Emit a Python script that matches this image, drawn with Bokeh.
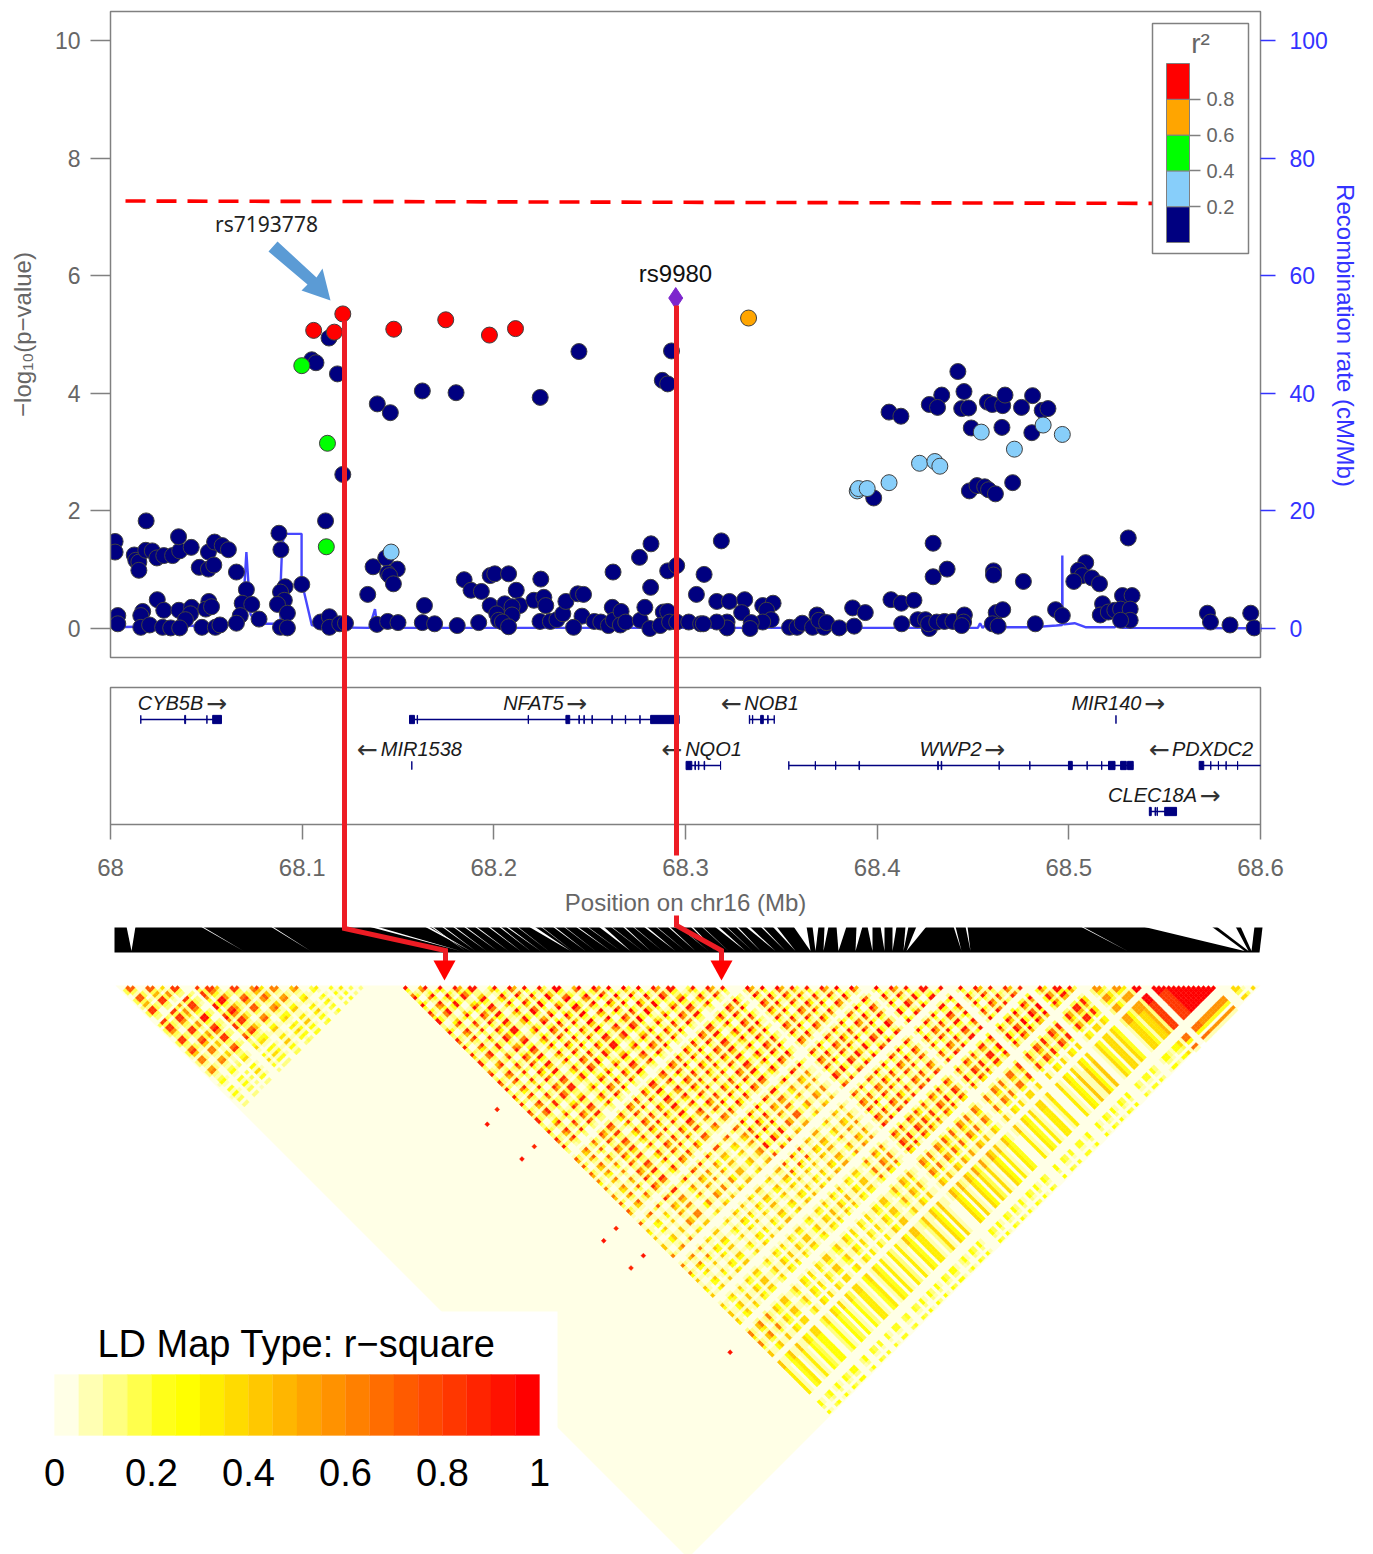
from bokeh.plotting import figure
from bokeh.embed import file_html
from bokeh.resources import INLINE
from bokeh.models import Range1d, LinearAxis, FixedTicker
from bokeh.core.properties import value

# ---- association data: (position Mb, -log10 p)
navy = [(.1140,4.94),(.1050,4.57),(.1072,4.52),(.1184,4.33),(.2444,4.71),(.2927,4.72),(.2879,4.22),(.2907,4.16),(.1392,3.82),(.1460,3.67),(.1627,4.04),(.1803,4.01),(.2242,3.93),(.1212,2.62),(.0186,1.83),(.1122,1.83),
(.0024,1.48),(.0024,1.30),(.0124,1.25),(.0132,1.16),(.0148,1.13),(.0148,.99),(.0184,1.33),(.0218,1.32),(.0242,1.20),(.0278,1.24),(.0324,1.24),(.0361,1.32),(.0355,1.56),(.0421,1.38),(.0511,1.30),(.0543,1.47),(.0583,1.41),(.0615,1.34),(.0463,1.04),(.0511,1.01),(.0539,1.08),(.0657,.96),(.0709,.66),(.0687,.43),(.0737,.41),(.0775,.16),(.0677,.22),(.0657,.09),(.0879,1.62),(.0889,1.34),(.0911,.71),(.0887,.62),(.0907,.48),(.0871,.41),(.0923,.26),(.0887,.02),(.0923,.01),(.0998,.75),(.0244,.49),(.0278,.31),(.0357,.31),(.0423,.36),(.0417,.25),(.0391,.15),(.0513,.46),(.0497,.33),(.0527,.37),(.0168,.29),(.0158,.22),(.0038,.22),(.0038,.08),(.0158,.02),(.0204,.06),(.0272,.02),(.0314,.01),(.0361,.01),(.0477,.02),(.0547,.02),(.0571,.06),(.1096,.11),(.1142,.20),(.1142,.02),(.1196,.08),(.1226,.09),(.1390,.07),(.1446,.12),(.1500,.10),(.1627,.10),(.1691,.08),(.1809,.05),(.1921,.10),(.1342,.58),(.1370,1.05),(.1436,1.20),(.1496,1.01),(.1446,.94),(.1456,.90),(.1476,.76),(.1638,.39),(.1845,.83),(.1881,.65),(.1935,.63),(.1981,.90),(.2005,.93),(.2077,.93),(.2117,.65),(.1981,.39),(.2057,.42),(.2135,.39),(.2095,.37),(.2015,.25),(.2095,.23),(.2025,.14),(.2045,.11),(.2077,.03),(.2209,.48),(.2245,.84),(.2261,.53),(.2271,.39),(.2241,.12),(.2295,.12),(.2329,.15),(.2360,.25),(.2376,.46),(.2438,.59),(.2468,.58),(.2460,.21),(.2416,.02),(.2524,.12),(.2558,.11),(.2618,.36),(.2598,.05),(.2624,.14),(.2664,.29),(.2660,.06),(.2688,.11),(.2764,.14),(.2788,.36),(.2818,.70),(.2760,1.21),(.2820,1.44),(.2622,.96),(.2907,.98),(.2954,1.07),(.2884,.28),(.2907,.29),(.2814,.0),(.2868,.05),(.2917,.11),(.2954,.11),(.3017,.11),(.3057,.58),(.3079,.08),(.3097,.92),
(.3187,1.49),(.4292,1.45),(.4365,1.01),(.4292,.88),(.4607,.98),(.4607,.91),(.4763,.80),(.5310,1.54),(.5088,1.12),(.5050,.99),(.5070,.90),(.5026,.80),(.5120,.86),(.5160,.76),(.3163,.46),(.3229,.46),(.3309,.49),(.3293,.27),(.3403,.39),(.3457,.43),(.3423,.31),(.3447,.15),(.3403,.11),(.3343,.10),(.3337,.0),(.3217,.11),(.3217,.01),(.3163,.11),(.3093,.08),(.3543,.02),(.3582,.02),(.3609,.09),(.3663,.02),(.3686,.23),(.3722,.02),(.3696,.14),(.3736,.10),(.3802,.01),(.3880,.04),(.3872,.35),(.3938,.27),(.4072,.49),(.4126,.43),(.4192,.48),(.4128,.08),(.4212,.15),(.4252,.15),(.4272,.0),(.4268,.08),(.4311,.11),(.4351,.12),(.4395,.12),(.4455,.23),(.4451,.11),(.4441,.05),(.4621,.27),(.4655,.32),(.4601,.08),(.4631,.04),(.4825,.08),(.4931,.32),(.4966,.22),(.5176,.42),(.5164,.23),(.5206,.28),(.5240,.31),(.5280,.56),(.5330,.56),(.5270,.33),(.5320,.33),(.5320,.14),(.5270,.14),(.5723,.26),(.5739,.11),(.5841,.06),(.5949,.26),(.5967,.01),
(.4421,4.37),(.4453,4.03),(.4337,3.97),(.4272,3.81),(.4315,3.76),(.4441,3.74),(.4477,3.75),(.4062,3.68),(.4124,3.61),(.4575,3.85),(.4601,3.81),(.4655,3.79),(.4667,3.97),(.4753,3.76),(.4811,3.96),(.4861,3.71),(.4891,3.74),(.4491,3.41),(.4651,3.42),(.4807,3.33),(.3982,2.22),(.4481,2.34),(.4521,2.43),(.4561,2.41),(.4581,2.36),(.4617,2.29),(.4707,2.48)]
skyblue = [(.1464,1.30),(.4543,3.34),(.4866,3.46),(.4966,3.30),(.4716,3.05),(.4221,2.81),(.4301,2.84),(.4327,2.76),(.4062,2.48),(.3896,2.34),(.3902,2.38),(.3948,2.38)]
green = [(.0998,4.47),(.1132,3.15),(.1126,1.39)]
orange = [(.3329,5.28)]
red = [(.1212,5.35),(.1060,5.07),(.1168,5.04),(.1478,5.09),(.1749,5.25),(.1977,4.99),(.2113,5.10)]
lead_snp = [(.2949,5.62)]

recomb_pos = [0,.066,.069,.0709,.073,.076,.0887,.0887,.0895,.0905,.0997,.0997,.105,.110,.135,.138,.139,.140,.143,.30,.40,.450,.4525,.4537,.455,.4571,.460,.480,.4935,.4965,.4966,.4967,.4975,.503,.509,.524,.5262,.528,.60]
recomb_rate = [.2,.6,2.5,13,2.5,.8,.8,7,13.5,16.1,16.1,8,.6,.2,.1,3.3,.9,.2,.1,.1,.1,.1,.1,.9,.1,.8,.2,.2,.5,.6,12.4,.9,.7,.9,.2,.2,1.2,.1,.05]

gene_names = ["CYB5B","NFAT5","NOB1","MIR140","MIR1538","NQO1","WWP2","PDXDC2","CLEC18A"]
gene_label_pos = [.0313,.2206,.3449,.5196,.1622,.3146,.4383,.5750,.5437]
gene_arrow_pos = [.0553,.2431,.3240,.5447,.1341,.2930,.4612,.5473,.5737]
gene_arrows = ["→","→","←","→","←","←","→","←","→"]
gene_row = [1,1,1,1,2,2,2,2,3]
gene_start = [.0158,.1560,.3333,.5246,.1572,.3003,.3539,.5680,.5420]
gene_end = [.0579,.2967,.3463,.5246,.1572,.3183,.5336,.6000,.5562]
gene_exons = [
 [(.0158,.0158),(.0387,.0392),(.0503,.0503),(.0533,.0579)],
 [(.1560,.1586),(.1600,.1602),(.2179,.2181),(.2376,.2396),(.2444,.2446),(.2470,.2472),(.2512,.2514),(.2616,.2618),(.2686,.2688),(.2762,.2763),(.2818,.2967)],
 [(.3333,.3335),(.3349,.3351),(.3392,.3406),(.3429,.3431),(.3463,.3463)],
 [(.5246,.5246)],
 [(.1572,.1572)],
 [(.3003,.3033),(.3049,.3052),(.3067,.3070),(.3097,.3100),(.3183,.3183)],
 [(.3539,.3539),(.3677,.3678),(.3783,.3784),(.3905,.3908),(.4316,.4319),(.4334,.4337),(.4636,.4637),(.4796,.4797),(.4998,.5018),(.5095,.5096),(.5171,.5172),(.5207,.5241),(.5270,.5300),(.5306,.5336)],
 [(.5680,.5704),(.5740,.5741),(.5780,.5781),(.5820,.5821),(.5880,.5881)],
 [(.5420,.5430),(.5450,.5452),(.5460,.5462),(.5500,.5562)],
]
x_ticks = [68,68.1,68.2,68.3,68.4,68.5,68.6]
y_ticks = [0,2,4,6,8,10]
rate_ticks = [0,20,40,60,80,100]
r2_colors = ["#000080","#87CEFA","#00FF00","#FFA500","#FF0000"]
r2_breaks = [0,.2,.4,.6,.8,1]
ld_labels = [0,.2,.4,.6,.8,1]
ld_palette = ["#FFFFE6","#FFFFB3","#FFFF80","#FFFF4C","#FFFF19","#FFFF00","#FFED00","#FFDB00","#FFC800","#FFB600","#FFA400","#FF9200","#FF8000","#FF6D00","#FF5B00","#FF4900","#FF3700","#FF2400","#FF1200","#FF0000"]

# LD blocks: estimated strength per 48px block along the SNP axis, rows I, columns J>=I
ld_blocks = [
 [.7,.8,.8,.6,.25,.1],
 [.8,.9,.8,.35,.1],
 [.8,.7,.4,.15],
 [.6,.4,.2],
 [.3,.2],
 [.1],
 [.9,.9,.85,.85,.85,.85,.85,.7,.6,.7,.42,.6,.4,.4,.6,.4,.3,.25],
 [.9,.9,.9,.9,.85,.85,.8,.8,.85,.6,.4,.4,.4,.4,.38,.25,.25],
 [.9,.95,.9,.9,.9,.85,.85,.8,.6,.45,.4,.4,.38,.38,.25,.22],
 [.95,.95,.9,.9,.9,.9,.75,.45,.45,.45,.4,.4,.38,.3,.22],
 [.95,.95,.9,.9,.85,.9,.9,.75,.45,.45,.38,.32,.3,.25],
 [.9,.9,.9,.9,.9,.7,.5,.5,.4,.4,.4,.32,.25],
 [.9,.95,.95,.95,.6,.5,.6,.65,.5,.4,.38,.25],
 [.95,.9,.9,.9,.8,.9,.85,.65,.45,.38,.25],
 [.9,.9,.9,.9,.85,.8,.7,.5,.38,.25],
 [.95,.95,.9,.85,.85,.65,.42,.32,.25],
 [.9,.9,.9,.85,.65,.38,.32,.22],
 [.9,.9,.9,.8,.38,.32,.25],
 [.85,.95,.85,.38,.42,.25],
 [.9,.85,.38,.38,.22],
 [.55,.5,.38,.25],
 [.95,.8,.65],
 [1.0,.55],
 [.35],
]
# how strongly each 5px SNP bin along the top edge carries LD (pale diagonals are low)
ld_snp_strength = ("13993299372993219" "39973299328972993" "289327932839372932"
 "3113" "1293279239" "3297399225" "9329729329" "5299327923" "9729329529" "3297299325"
 "9329729321" "2972932972" "9529329729" "3297212932" "9729329923" "9102932972"
 "9329729113" "9629939611" "3996399629" "9109999999" "9999991019" "95192")
ld_spot_i = [47,52,52,47,52,47,52,47,50]
ld_spot_j = [102,101,116,116,149,149,160,160,197]
ld_spot_r2 = [.9,.85,.85,.9,.85,.9,.9,.85,.9]

# gene-map fan between genome and LD matrix: white wedges (top left, top right, bottom)
wedge_l = [126,200,270,368,424,430,441,452,463,474,487,498,505,516,528,540,552,563,575,586,598,610,622,632,643,655,667,678,690,701,714,725,735,745,760,772,793,812,824,836,856,867,880,892,905,916,953,965,1080,1142,1216,1240]
wedge_r = [135,202,272,376,428,432,443,454,465,476,489,500,507,517,534,541,554,564,577,587,603,611,624,633,646,656,669,679,692,702,718,726,737,749,762,776,806,818,828,846,862,872,884,896,908,926,955,967,1082,1211,1235,1254]
wedge_b = [131,243,310,460,470,465,475,486,497,508,520,530,540,548,570,572,585,595,610,620,630,642,650,662,675,685,695,708,715,728,745,752,760,775,785,795,810,815,823,838,855,872,884,892,903,906,961,970,1127,1244,1248,1251]

# ---- page geometry
ORG = 0
W, H = 1373, 1554
PXS = 1916.6667
PYS = 58.8
mb = lambda px: 68 + (px - 110) / PXS
lp = lambda py: (628 - py) / PYS

p = figure(width=W, height=H, x_range=Range1d(mb(ORG), mb(ORG + W)), y_range=Range1d(lp(ORG + H), lp(ORG)),
           x_axis_type=None, y_axis_type=None, tools="", toolbar_location=None, output_backend="svg",
           min_border=0, outline_line_color=None, background_fill_color="white")
p.extra_x_ranges = {"page": Range1d(ORG, ORG + W), "ld": Range1d((ORG - 54) / 485, (ORG + W - 54) / 485)}
p.extra_y_ranges = {"page": Range1d(ORG + H, ORG),
                    "rate": Range1d(lp(ORG + H) * 10, lp(ORG) * 10),
                    "r2": Range1d((242 - (ORG + H)) / 179, (242 - ORG) / 179),
                    "row": Range1d(1 + (ORG + H - 719) / 46, 1 + (ORG - 719) / 46)}
PG = dict(x_range_name="page", y_range_name="page")
GREY = "#808080"
TXT = "#666666"
BLUE = "#3333FF"
FONT = value("Liberation Sans")

# ---- association panel
p.line([68 + v for v in recomb_pos], recomb_rate, y_range_name="rate", line_color=BLUE, line_width=2.4, line_alpha=.9)
for pts, col in zip([navy, skyblue, green, orange, red], r2_colors):
    p.scatter([68 + a for a, _ in pts], [b for _, b in pts], size=16, marker="circle",
              fill_color=col, line_color="#404040", line_width=1)
p.scatter([68 + a for a, _ in lead_snp], [b for _, b in lead_snp], size=21, marker="diamond",
          fill_color="#7D26CD", line_color="#7D26CD")
p.segment(x0=[mb(125)], y0=[7.27], x1=[mb(1152)], y1=[7.23], line_color="#FF0000", line_width=3.6, line_dash="20 11")
# frame masks and frames
p.quad(left=[30, 1261], right=[109.5, 1285], top=[11, 11], bottom=[657, 657], fill_color="white", line_color=None, **PG)
p.quad(left=[110], right=[1260], top=[11], bottom=[657], fill_color=None, line_color=GREY, line_width=1.5, **PG)
p.quad(left=[110], right=[1260], top=[687], bottom=[824], fill_color=None, line_color=GREY, line_width=1.5, **PG)

left_axis = LinearAxis(fixed_location=68, bounds=(0, 10), ticker=FixedTicker(ticks=y_ticks))
right_axis = LinearAxis(fixed_location=68.6, y_range_name="rate", bounds=(0, 100), ticker=FixedTicker(ticks=rate_ticks))
x_axis = LinearAxis(fixed_location=lp(824), bounds=(68, 68.6), ticker=FixedTicker(ticks=x_ticks),
                    major_label_overrides={t: f"{t:g}" for t in x_ticks})
for ax, col, tc in [(left_axis, TXT, GREY), (right_axis, BLUE, BLUE), (x_axis, TXT, GREY)]:
    ax.major_label_text_font = "Liberation Sans"
    ax.major_label_text_font_size = "23px"
    ax.major_label_text_color = col
    ax.major_tick_line_color = tc
    ax.major_tick_line_width = 1.5
    ax.major_tick_in = 0
    ax.minor_tick_line_color = None
    ax.axis_line_color = None
left_axis.major_tick_out = 20
left_axis.major_label_standoff = 10
right_axis.major_tick_out = 15
right_axis.major_label_standoff = 14
x_axis.major_tick_out = 15
x_axis.major_label_standoff = 19
x_axis.major_label_text_font_size = "24px"
p.add_layout(left_axis, "left")
p.add_layout(right_axis, "right")
p.add_layout(x_axis, "below")

p.text(x=[22], y=[334], text=["−log₁₀(p−value)"], angle=[1.5708], text_align="center", text_baseline="middle",
       text_font=FONT, text_font_size="24px", text_color=TXT, **PG)
p.text(x=[1345], y=[335], text=["Recombination rate (cM/Mb)"], angle=[-1.5708], text_align="center", text_baseline="middle",
       text_font=FONT, text_font_size="24px", text_color=BLUE, **PG)
p.text(x=[685], y=[902], text=["Position on chr16 (Mb)"], text_align="center", text_baseline="middle",
       text_font=FONT, text_font_size="24px", text_color=TXT, **PG)
p.text(x=[266], y=[223], text=["rs7193778"], text_align="center", text_baseline="middle",
       text_font=value("Noto Sans"), text_font_size="21px", text_color="#222222", **PG)
p.text(x=[675], y=[273], text=["rs9980"], text_align="center", text_baseline="middle",
       text_font=FONT, text_font_size="24px", text_color="#111111", **PG)
p.patch(x=[268, 277, 316, 322, 330, 301, 307], y=[251, 241, 277, 268, 300, 290, 284], fill_color="#5B9BD5", line_color=None, **PG)

# ---- legend r2
p.quad(left=[1152], right=[1248], top=[23], bottom=[253], fill_color="white", line_color=GREY, line_width=1.5, **PG)
p.quad(left=[mb(1166)] * 5, right=[mb(1189)] * 5, bottom=r2_breaks[:-1], top=r2_breaks[1:], y_range_name="r2",
       fill_color=r2_colors, line_color=GREY, line_width=1)
r2_axis = LinearAxis(fixed_location=mb(1189), y_range_name="r2", bounds=(.2, .8), ticker=FixedTicker(ticks=[.2, .4, .6, .8]))
r2_axis.axis_line_color = None
r2_axis.major_tick_in = 0
r2_axis.major_tick_out = 11
r2_axis.major_tick_line_color = GREY
r2_axis.major_tick_line_width = 1.5
r2_axis.minor_tick_line_color = None
r2_axis.major_label_standoff = 6
r2_axis.major_label_text_font = "Liberation Sans"
r2_axis.major_label_text_font_size = "20px"
r2_axis.major_label_text_color = TXT
p.add_layout(r2_axis, "right")
p.text(x=[1200], y=[43], text=["r²"], text_align="center", text_baseline="middle", text_font=FONT,
       text_font_size="28px", text_color=TXT, **PG)

# ---- genes
for g in range(len(gene_names)):
    r = gene_row[g]
    p.segment(x0=[68 + gene_start[g]], x1=[68 + gene_end[g]], y0=[r], y1=[r], y_range_name="row", line_color="#000080", line_width=1.5)
    ex = gene_exons[g]
    p.quad(left=[68 + a for a, _ in ex], right=[68 + b for _, b in ex], bottom=[r + .09] * len(ex), top=[r - .09] * len(ex),
           y_range_name="row", fill_color="#000080", line_color="#000080", line_width=1)
p.text(x=[68 + v for v in gene_label_pos], y=[r - .35 for r in gene_row], text=gene_names, y_range_name="row",
       text_align="center", text_baseline="middle", text_font=FONT, text_font_style="italic",
       text_font_size="20px", text_color="#1a1a1a")
p.text(x=[68 + v for v in gene_arrow_pos], y=[r - .35 for r in gene_row], text=gene_arrows, y_range_name="row",
       text_align="center", text_baseline="middle", text_font=value("DejaVu Sans"),
       text_font_size="25px", text_color="#333333")

# ---- fan strip
p.patch(x=[114, 1262, 1259, 114], y=[927, 927, 952, 952], fill_color="black", line_color=None, **PG)
p.patches(xs=[[a, b, c] for a, b, c in zip(wedge_l, wedge_r, wedge_b)],
          ys=[[926, 926, 950.5] for _ in wedge_l], fill_color="white", line_color=None, **PG)

# ---- LD heatmap
p.patch(x=[115, 1260, 687.5], y=[985, 985, 1557.5], fill_color="#FFFFE6", line_color=None, **PG)
S = [(int(c) / 9) ** 1.35 for c in ld_snp_strength]
n = len(S)
d = (1260 - 115) / n
xs, ys, cs = [], [], []
def cell(i, j, v):
    idx = min(19, int(v * 20))
    if idx == 0:
        return
    cx = 115 + d * (i + j + 1) / 2
    cy = 985 + d * (j - i) / 2 + d / 2
    h = d / 2
    xs.append([cx, cx + h, cx, cx - h])
    ys.append([cy - h, cy, cy + h, cy])
    cs.append(ld_palette[idx])
for i in range(n):
    I = min(23, int((i * d) / (1145 / 24)))
    row = ld_blocks[I]
    for j in range(i, n):
        J = min(23, int((j * d) / (1145 / 24)))
        k = J - I
        lev = row[k] if k < len(row) else 0
        cell(i, j, lev * S[i] * S[j])
for i, j, v in zip(ld_spot_i, ld_spot_j, ld_spot_r2):
    cell(i, j, v)
p.patches(xs=xs, ys=ys, fill_color=cs, line_color=cs, line_width=.4, **PG)

# ---- LD key
p.quad(left=[0], right=[557], top=[1311], bottom=[1554], fill_color="white", line_color=None, **PG)
p.text(x=[296], y=[1343], text=["LD Map Type: r−square"], text_align="center", text_baseline="middle",
       text_font=FONT, text_font_size="38px", text_color="black", **PG)
p.quad(left=[k / 20 for k in range(20)], right=[(k + 1) / 20 for k in range(20)], top=[1374] * 20, bottom=[1435] * 20,
       fill_color=ld_palette, line_color=ld_palette, line_width=.3, x_range_name="ld", y_range_name="page")
p.text(x=ld_labels, y=[1472] * 6, text=[f"{v:g}" for v in ld_labels], text_align="center", text_baseline="middle",
       text_font=FONT, text_font_size="38px", text_color="black", x_range_name="ld", y_range_name="page")

# ---- red connectors
RED = "#ED1C24"
p.line([344, 344, 445, 445], [320, 928, 950, 962], line_color=RED, line_width=5, line_join="miter", **PG)
p.line([676, 676], [305, 855], line_color=RED, line_width=5, **PG)
p.line([676, 676, 721, 721], [915, 925, 950, 962], line_color=RED, line_width=5, line_join="miter", **PG)
p.patches(xs=[[433, 455, 444], [710, 732, 721]], ys=[[960, 960, 980], [960, 960, 980]], fill_color="#FF0000", line_color=None, **PG)

open("out.html", "w").write(file_html(p, INLINE))
